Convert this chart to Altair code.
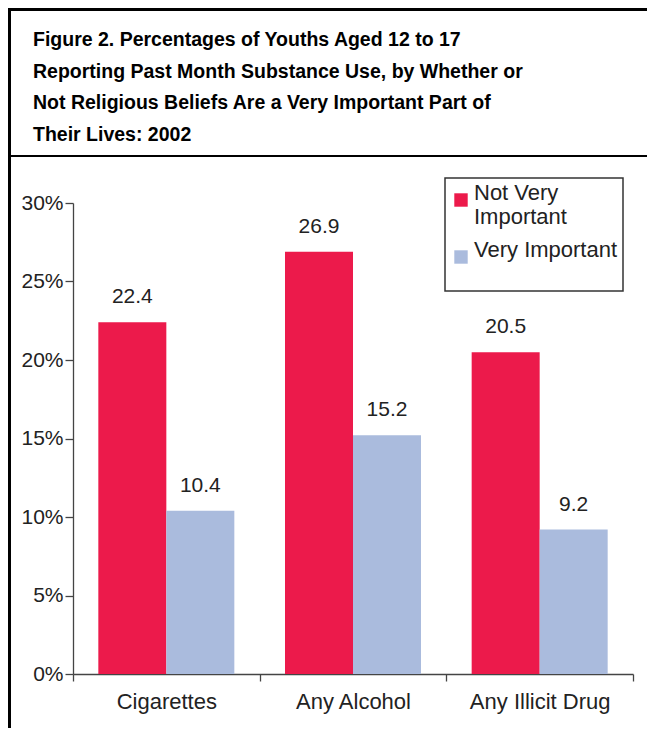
import altair as alt
import pandas as pd

# ---- data ----
categories = ["Cigarettes", "Any Alcohol", "Any Illicit Drug"]
series = ["Not Very Important", "Very Important"]
not_very_important = [22.4, 26.9, 20.5]
very_important = [10.4, 15.2, 9.2]
y_ticks = [0, 5, 10, 15, 20, 25, 30]
title_lines = [
    "Figure 2. Percentages of Youths Aged 12 to 17",
    "Reporting Past Month Substance Use, by Whether or",
    "Not Religious Beliefs Are a Very Important Part of",
    "Their Lives: 2002",
]
colors = ["#EC1A4B", "#AABBDD"]

rows = []
for c, a, b in zip(categories, not_very_important, very_important):
    rows.append({"cat": c, "series": series[0], "value": a})
    rows.append({"cat": c, "series": series[1], "value": b})
df = pd.DataFrame(rows)

W, H = 560, 471
PAD = {"left": 65, "top": 195, "right": 14, "bottom": 54}
FONT = "Liberation Sans"
TXT = "#222222"

x_enc = alt.X(
    "cat:N",
    sort=categories,
    scale=alt.Scale(paddingInner=0, paddingOuter=0),
    axis=alt.Axis(
        title=None,
        labelAngle=0,
        tickBand="extent",
        labelFontSize=22,
        labelPadding=10,
        tickSize=7,
    ),
)
xo_enc = alt.XOffset(
    "series:N", sort=series, scale=alt.Scale(paddingInner=0, paddingOuter=0.3725)
)
y_enc = alt.Y(
    "value:Q",
    scale=alt.Scale(domain=[0, 30], nice=False),
    axis=alt.Axis(
        title=None,
        values=y_ticks,
        labelExpr="datum.value + '%'",
        labelFontSize=21,
        tickSize=8,
        labelPadding=2,
        grid=False,
    ),
)

bars = (
    alt.Chart(df)
    .mark_bar()
    .encode(
        x=x_enc,
        xOffset=xo_enc,
        y=y_enc,
        color=alt.Color(
            "series:N",
            sort=series,
            scale=alt.Scale(domain=series, range=colors),
            legend=alt.Legend(
                title=None,
                orient="none",
                legendX=377,
                legendY=-14,
                symbolType="square",
                symbolSize=180,
                symbolStrokeWidth=0,
                labelFontSize=22,
                labelFont=FONT,
                labelColor=TXT,
                labelOffset=2,
                labelLimit=400,
                labelBaseline="alphabetic",
                labelExpr="datum.label == 'Not Very Important' ? ['Not Very', 'Important'] : datum.label",
                rowPadding=11,
                padding=0,
            ),
        ),
    )
)

labels = (
    alt.Chart(df)
    .mark_text(dy=-19, fontSize=21, font=FONT, color=TXT, baseline="alphabetic")
    .encode(
        x=x_enc,
        xOffset=xo_enc,
        y=y_enc,
        text=alt.Text("value:Q", format=".1f"),
    )
)

one = pd.DataFrame({"k": [0]})

title = (
    alt.Chart(pd.DataFrame({"t": ["\n".join(title_lines)]}))
    .mark_text(
        align="left",
        baseline="alphabetic",
        fontSize=19.5,
        fontWeight="bold",
        font=FONT,
        lineHeight=31.7,
        lineBreak="\n",
        color="black",
    )
    .encode(x=alt.value(-40), y=alt.value(-157), text="t:N")
)

left_border = (
    alt.Chart(one)
    .mark_rule(color="black", strokeWidth=3)
    .encode(x=alt.value(-63.5), y=alt.value(-PAD["top"]), y2=alt.value(H + PAD["bottom"]))
)
top_border = (
    alt.Chart(one)
    .mark_rule(color="black", strokeWidth=3)
    .encode(x=alt.value(-PAD["left"]), x2=alt.value(W + PAD["right"]), y=alt.value(-193.5))
)
divider = (
    alt.Chart(one)
    .mark_rule(color="black", strokeWidth=2)
    .encode(x=alt.value(-63.5), x2=alt.value(W + PAD["right"]), y=alt.value(-47))
)
legend_frame = (
    alt.Chart(one)
    .mark_rect(filled=False, stroke="#333333", strokeWidth=1.5)
    .encode(x=alt.value(372), x2=alt.value(550), y=alt.value(-25), y2=alt.value(88))
)

chart = (
    alt.layer(left_border, top_border, divider, title, legend_frame, bars, labels)
    .properties(
        width=W,
        height=H,
        padding=PAD,
        autosize=alt.AutoSizeParams(type="none"),
        background="white",
    )
    .configure_view(stroke=None)
    .configure_axis(
        labelFont=FONT,
        labelColor=TXT,
        domainColor="#444444",
        tickColor="#444444",
        domainWidth=1.3,
        tickWidth=1.3,
    )
)

chart.save("out.html", embed_options={"renderer": "svg", "actions": False})
